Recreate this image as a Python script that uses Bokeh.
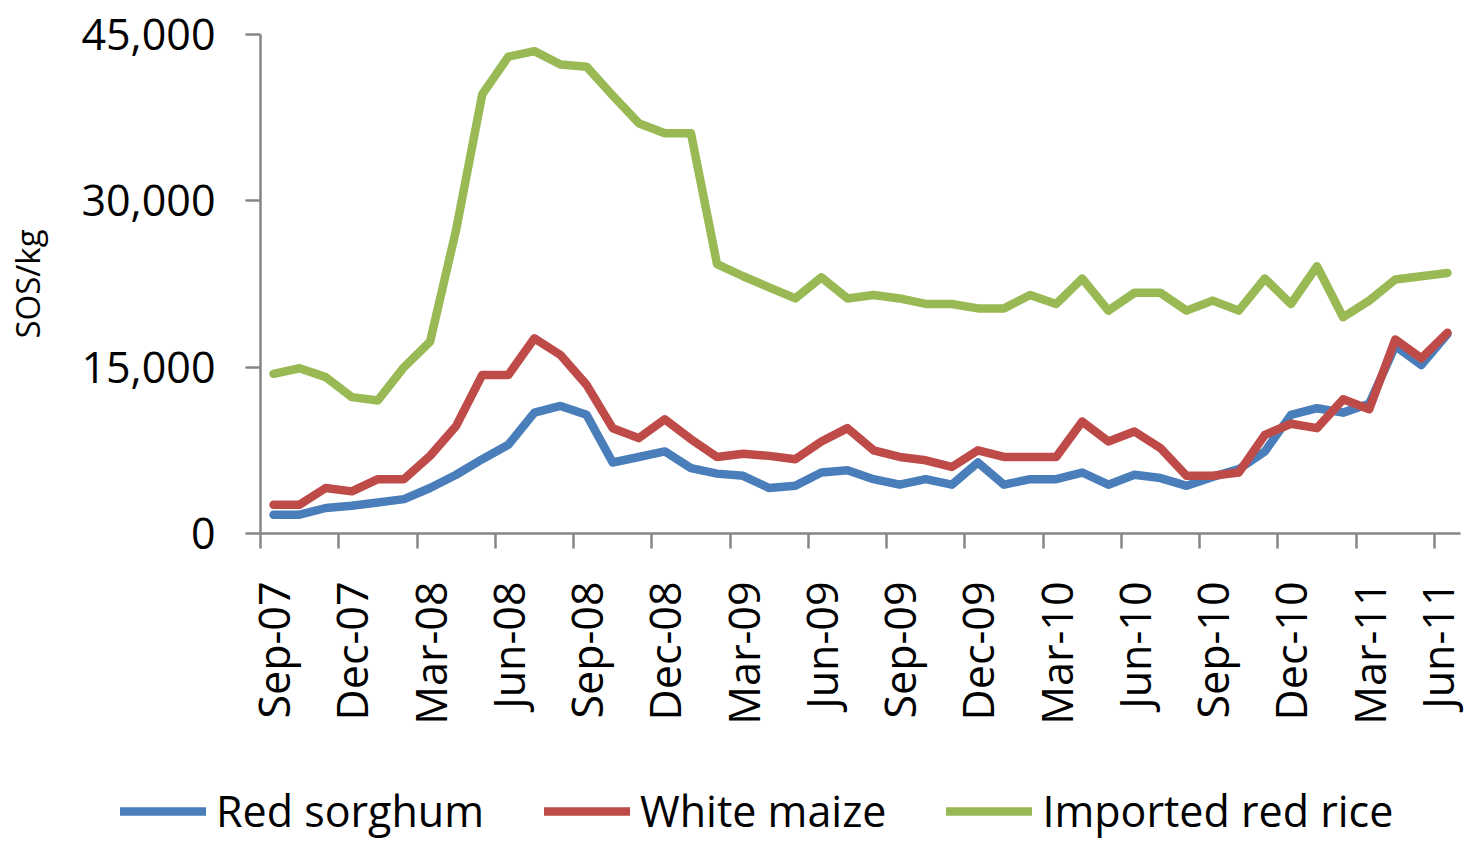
import math
from bokeh.plotting import figure
from bokeh.layouts import column
from bokeh.models import (Range1d, FixedTicker, NumeralTickFormatter, Legend, LegendItem,
                          ColumnDataSource)
from bokeh.embed import file_html
from bokeh.resources import INLINE

months = ["Sep-07", "Oct-07", "Nov-07", "Dec-07", "Jan-08", "Feb-08", "Mar-08", "Apr-08",
          "May-08", "Jun-08", "Jul-08", "Aug-08", "Sep-08", "Oct-08", "Nov-08", "Dec-08",
          "Jan-09", "Feb-09", "Mar-09", "Apr-09", "May-09", "Jun-09", "Jul-09", "Aug-09",
          "Sep-09", "Oct-09", "Nov-09", "Dec-09", "Jan-10", "Feb-10", "Mar-10", "Apr-10",
          "May-10", "Jun-10", "Jul-10", "Aug-10", "Sep-10", "Oct-10", "Nov-10", "Dec-10",
          "Jan-11", "Feb-11", "Mar-11", "Apr-11", "May-11", "Jun-11"]

red_sorghum = [1700, 1700, 2300, 2500, 2800, 3100, 4100, 5300, 6700, 8000,
               10900, 11500, 10700, 6400, 6900, 7400, 5900, 5400, 5200, 4100,
               4300, 5500, 5700, 4900, 4400, 4900, 4400, 6400, 4400, 4900,
               4900, 5500, 4400, 5300, 5000, 4300, 5100, 5800, 7400, 10700,
               11300, 10900, 11700, 16900, 15200, 18000]

white_maize = [2600, 2600, 4100, 3800, 4900, 4900, 7000, 9700, 14300, 14300,
               17600, 16100, 13400, 9500, 8600, 10300, 8500, 6900, 7200, 7000,
               6700, 8300, 9500, 7500, 6900, 6600, 6000, 7500, 6900, 6900,
               6900, 10100, 8300, 9200, 7700, 5200, 5200, 5500, 8900, 9900,
               9500, 12100, 11200, 17500, 15800, 18100]

imported_red_rice = [14400, 14900, 14100, 12300, 12000, 15000, 17300, 27400, 39600, 43000,
                     43500, 42300, 42100, 39500, 37000, 36100, 36100, 24300, 23200, 22200,
                     21200, 23100, 21200, 21500, 21200, 20700, 20700, 20300, 20300, 21500,
                     20700, 23000, 20100, 21700, 21700, 20100, 21000, 20100, 23000, 20700,
                     24100, 19500, 21000, 22900, 23200, 23500]

y_ticks = [0, 15000, 30000, 45000]
series_names = ["Red sorghum", "White maize", "Imported red rice"]
series_colors = ["#4A7EBB", "#BE4B48", "#98B954"]

FONT = "Open Sans"
GRAY = "#868686"
W = 1466

x = list(range(len(months)))

p = figure(width=W, height=738, output_backend="svg", toolbar_location=None,
           x_range=Range1d(-0.5, len(months) - 0.5), y_range=Range1d(0, 45000),
           min_border_left=260, min_border_right=6, min_border_top=34, min_border_bottom=205)
p.frame_align = False
p.outline_line_color = None
p.xgrid.grid_line_color = None
p.ygrid.grid_line_color = None

line_style = dict(line_width=8.5, line_join="round", line_cap="round")
for vals, col in zip([red_sorghum, white_maize, imported_red_rice], series_colors):
    src = ColumnDataSource(dict(x=x, y=vals))
    p.line("x", "y", source=src, line_color=col, **line_style)

# X axis: labels every 3 months at category centres, tick marks at category boundaries
label_idx = list(range(0, len(months), 3))
xa = p.xaxis[0]
xa.ticker = FixedTicker(ticks=label_idx, minor_ticks=[i - 0.5 for i in label_idx])
xa.major_label_overrides = {i: months[i] for i in label_idx}
xa.major_label_orientation = math.pi / 2
xa.major_tick_line_color = None
xa.major_tick_out = 15
xa.major_tick_in = 0
xa.minor_tick_out = 15
xa.minor_tick_in = 0
xa.minor_tick_line_color = GRAY
xa.minor_tick_line_width = 2.5
xa.axis_line_color = GRAY
xa.axis_line_width = 2.5
xa.major_label_standoff = 33
xa.major_label_text_font = FONT
xa.major_label_text_font_size = "43px"
xa.major_label_text_color = "black"

ya = p.yaxis[0]
ya.ticker = FixedTicker(ticks=y_ticks, minor_ticks=[])
ya.formatter = NumeralTickFormatter(format="0,0")
ya.major_tick_out = 15
ya.major_tick_in = 0
ya.major_tick_line_color = GRAY
ya.major_tick_line_width = 2.5
ya.axis_line_color = GRAY
ya.axis_line_width = 2.5
ya.major_label_standoff = 30
ya.major_label_text_font = FONT
ya.major_label_text_font_size = "43px"
ya.major_label_text_color = "black"
ya.axis_label = "SOS/kg"
ya.axis_label_text_font = FONT
ya.axis_label_text_font_size = "33px"
ya.axis_label_text_font_style = "normal"
ya.axis_label_text_color = "black"
ya.axis_label_standoff = 28

# Legend strip below the chart (legend-only renderers hold no drawable points)
LH = 104
p2 = figure(width=W, height=LH, output_backend="svg", toolbar_location=None,
            x_range=Range1d(0, 1), y_range=Range1d(0, 1), min_border=0,
            x_axis_location=None, y_axis_location=None)
p2.frame_align = False
p2.outline_line_color = None
p2.grid.visible = False
leg_renderers = []
for col in series_colors:
    leg_src = ColumnDataSource(dict(x=[float("nan")], y=[float("nan")]))
    leg_renderers.append(p2.line("x", "y", source=leg_src, line_color=col, **line_style))

legend = Legend(items=[LegendItem(label=n, renderers=[r]) for n, r in zip(series_names, leg_renderers)],
                orientation="horizontal", location=(120, 2),
                glyph_width=86, glyph_height=20, label_standoff=10, spacing=60,
                padding=0, margin=0, border_line_color=None, background_fill_alpha=0,
                label_text_font=FONT, label_text_font_size="43px", label_text_color="black")
p2.add_layout(legend, "center")

layout = column(p, p2, spacing=0)
open("out.html", "w").write(file_html(layout, INLINE))
